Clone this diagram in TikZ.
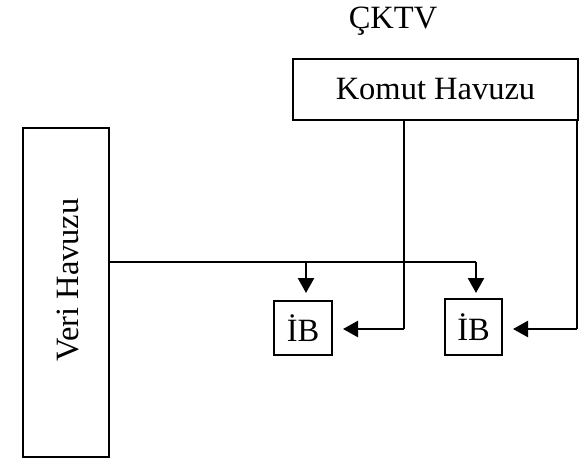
\documentclass[tikz,border=0pt]{standalone}
\usepackage{fontspec}
\setmainfont{Liberation Serif}
\usetikzlibrary{arrows.meta}
\begin{document}
\begin{tikzpicture}[x=1pt,y=-1pt,
  box/.style={draw,line width=2.6pt,inner sep=0pt},
  lbl/.style={font=\fontsize{32.5}{38}\selectfont},
  wire/.style={line width=1.4pt},
  feed/.style={line width=2.4pt,-{Triangle[length=15pt,width=16pt]}}]
\useasboundingbox (0,0) rectangle (582,459);
% pools
\node[box,minimum width=285pt,minimum height=61pt] (kh) at (435.5,89.5) {};
\node[lbl] at (kh.center) {Komut Havuzu};
\node[lbl,anchor=base] (title) at (393,28) {ÇKTV};
\node[box,minimum width=86pt,minimum height=329pt] (vh) at (66,292.5) {};
\node[lbl,rotate=90] at (68,280) {Veri Havuzu};
% units
\node[box,minimum width=58pt,minimum height=54pt] (ib1) at (303,328) {};
\node[lbl] at (ib1.center) {İB};
\node[box,minimum width=57pt,minimum height=56pt] (ib2) at (473.5,327) {};
\node[lbl] at (ib2.center) {İB};
% data bus
\coordinate (d0) at (vh.east |- 0,262);
\coordinate (d1) at (306,262);
\coordinate (d2) at (476,262);
\draw[wire] (d0) -- (d2);
\draw[feed] (d1) -- (306,293);
\draw[feed] (d2) -- (476,293);
% command lines
\coordinate (c1) at (404,329);
\coordinate (c2) at (577,329);
\draw[wire] (kh.south -| c1) -- (c1);
\draw[wire] (kh.south -| c2) -- (c2);
\draw[feed] (c1) -- (343,329);
\draw[feed] (c2) -- (513,329);
\end{tikzpicture}
\end{document}
